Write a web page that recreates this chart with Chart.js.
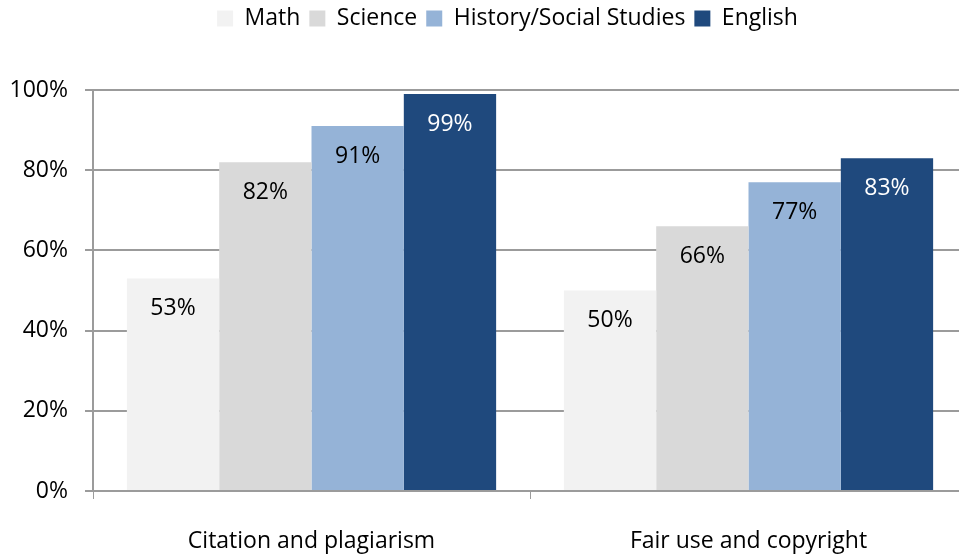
<!DOCTYPE html>
<html>
<head>
<meta charset="utf-8">
<script src="https://cdn.jsdelivr.net/npm/chart.js@4.4.0/dist/chart.umd.min.js"></script>
<style>
  html, body { margin: 0; padding: 0; background: #fff; overflow: hidden; }
  #wrap { width: 967px; height: 557px; position: relative; }
</style>
</head>
<body>
<div id="wrap"><canvas id="myChart"></canvas></div>
<script>
const categories = ['Citation and plagiarism', 'Fair use and copyright'];
const seriesNames = ['Math', 'Science', 'History/Social Studies', 'English'];
const mathValues = [53, 50];
const scienceValues = [82, 66];
const historyValues = [91, 77];
const englishValues = [99, 83];
const yTicks = [0, 20, 40, 60, 80, 100];

const FONT = '"Open Sans", Lato, sans-serif';
const FSIZE = 23;
const gridGray = '#9b9b9b';

const barColors = ['#f2f2f2', '#d9d9d9', '#95b3d7', '#1f497d'];
const labelColors = ['#000000', '#000000', '#000000', '#ffffff'];

// draws the value labels inside the top of each bar (no datalabels plugin offline)
const valueLabels = {
  id: 'valueLabels',
  afterDatasetsDraw(chart) {
    const ctx = chart.ctx;
    ctx.save();
    ctx.font = FSIZE + 'px ' + FONT;
    ctx.textAlign = 'center';
    ctx.textBaseline = 'middle';
    chart.data.datasets.forEach((ds, i) => {
      const meta = chart.getDatasetMeta(i);
      meta.data.forEach((bar, j) => {
        ctx.fillStyle = labelColors[i];
        ctx.fillText(ds.data[j] + '%', bar.x, bar.y + 30);
      });
    });
    ctx.restore();
  }
};

// extra room under the legend so the plot starts lower,
// and nudge the legend a bit right/up like the original
const legendGap = {
  id: 'legendGap',
  beforeInit(chart) {
    const fit = chart.legend.fit;
    chart.legend.fit = function () {
      fit.bind(chart.legend)();
      this.height += 48;
    };
  },
  afterLayout(chart) {
    chart.legend.left += 24;
    chart.legend.right += 24;
    chart.legend.top -= 2;
  }
};

const allValues = [mathValues, scienceValues, historyValues, englishValues];

new Chart(document.getElementById('myChart'), {
  type: 'bar',
  data: {
    labels: categories,
    datasets: seriesNames.map((name, i) => ({
      label: name,
      data: allValues[i],
      backgroundColor: barColors[i],
      borderWidth: 0,
      categoryPercentage: 0.845,
      barPercentage: 1.0,
    })),
  },
  options: {
    responsive: true,
    maintainAspectRatio: false,
    animation: false,
    layout: { padding: { top: 0, right: 0, bottom: 0, left: 0 } },
    plugins: {
      legend: {
        position: 'top',
        labels: {
          boxWidth: 16,
          boxHeight: 16,
          padding: 9,
          color: '#000',
          font: { family: FONT, size: FSIZE },
        },
      },
      tooltip: { enabled: false },
    },
    scales: {
      x: {
        grid: {
          offset: true,
          drawOnChartArea: false,
          drawTicks: true,
          tickLength: 8,
          color: gridGray,
        },
        border: { display: true, color: gridGray, width: 2 },
        ticks: {
          color: '#000',
          padding: 29,
          font: { family: FONT, size: FSIZE },
        },
        afterFit(scale) { scale.height = 66; },
      },
      y: {
        min: 0,
        max: 100,
        afterBuildTicks(scale) { scale.ticks = yTicks.map((v) => ({ value: v })); },
        grid: {
          color: gridGray,
          lineWidth: 2,
          tickLength: 8,
        },
        border: { display: true, color: gridGray, width: 2 },
        ticks: {
          color: '#000',
          padding: 17,
          font: { family: FONT, size: FSIZE },
          callback: (v) => v + '%',
        },
        afterFit(scale) { scale.width = 93; },
      },
    },
  },
  plugins: [valueLabels, legendGap],
});
</script>
</body>
</html>
